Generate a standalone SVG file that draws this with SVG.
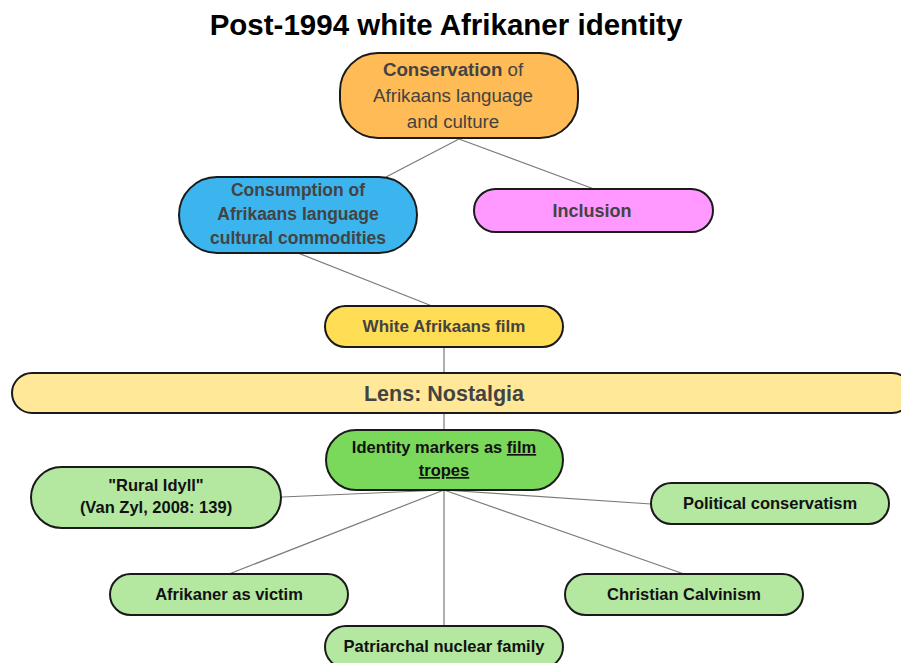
<svg xmlns="http://www.w3.org/2000/svg" width="901" height="663" viewBox="0 0 901 663">
  <style>
    .node { stroke: #1a1a1a; stroke-width: 2; }
    .edge { stroke: #7a7a7a; stroke-width: 1.2; fill: none; }
    .t { font-family: "Liberation Sans", Arial, sans-serif; text-anchor: middle; }
    .up { fill: #434343; }
    .dk { fill: #111111; font-weight: bold; font-size: 16.5px; }
    .b { font-weight: bold; }
  </style>
  <rect width="901" height="663" fill="#ffffff"/>

  <text class="t b" x="446" y="35" font-size="29.5" fill="#000">Post-1994 white Afrikaner identity</text>

  <g id="connectors">
    <line class="edge" x1="459" y1="139" x2="386" y2="177"/>
    <line class="edge" x1="459" y1="139" x2="594" y2="189"/>
    <line class="edge" x1="298" y1="253" x2="432" y2="306"/>
    <line class="edge" x1="444" y1="347" x2="444" y2="373"/>
    <line class="edge" x1="444" y1="413" x2="444" y2="430"/>
    <line class="edge" x1="444" y1="490" x2="282" y2="497"/>
    <line class="edge" x1="444" y1="490" x2="651" y2="504"/>
    <line class="edge" x1="444" y1="490" x2="229" y2="574"/>
    <line class="edge" x1="444" y1="490" x2="684" y2="574"/>
    <line class="edge" x1="444" y1="490" x2="444" y2="626"/>
  </g>

  <g id="conservation">
    <rect class="node" x="340" y="53" width="238" height="85" rx="38" fill="#FFBB55"/>
    <text class="t up" font-size="18.7"><tspan x="453" y="76"><tspan font-weight="bold">Conservation</tspan> of</tspan><tspan x="453" y="102">Afrikaans language</tspan><tspan x="453" y="128">and culture</tspan></text>
  </g>

  <g id="consumption">
    <rect class="node" x="179" y="177" width="238" height="76" rx="38" fill="#3CB5EF"/>
    <text class="t up b" font-size="17.5"><tspan x="298" y="196">Consumption of</tspan><tspan x="298" y="220">Afrikaans language</tspan><tspan x="298" y="244">cultural commodities</tspan></text>
  </g>

  <g id="inclusion">
    <rect class="node" x="474" y="189" width="239" height="43" rx="21.5" fill="#FF99FF"/>
    <text class="t up b" font-size="18" x="592" y="217">Inclusion</text>
  </g>

  <g id="white-afrikaans-film">
    <rect class="node" x="325" y="306" width="238" height="41" rx="20.5" fill="#FFDD55"/>
    <text class="t up b" font-size="17" x="444" y="332">White Afrikaans film</text>
  </g>

  <g id="lens-nostalgia">
    <rect class="node" x="12" y="373" width="900" height="40" rx="20" fill="#FFE999"/>
    <text class="t up b" font-size="21.5" x="444" y="401">Lens: Nostalgia</text>
  </g>

  <g id="identity-markers">
    <rect class="node" x="326" y="430" width="237" height="60" rx="30" fill="#7AD85A"/>
    <text class="t dk"><tspan x="444" y="453">Identity markers as <tspan text-decoration="underline">film</tspan></tspan><tspan x="444" y="476" text-decoration="underline">tropes</tspan></text>
  </g>

  <g id="rural-idyll">
    <rect class="node" x="31" y="467" width="250" height="61" rx="30.5" fill="#B4E8A0"/>
    <text class="t dk"><tspan x="156" y="491">"Rural Idyll"</tspan><tspan x="156" y="513">(Van Zyl, 2008: 139)</tspan></text>
  </g>

  <g id="political-conservatism">
    <rect class="node" x="651" y="483" width="238" height="41" rx="20.5" fill="#B4E8A0"/>
    <text class="t dk" x="770" y="509">Political conservatism</text>
  </g>

  <g id="afrikaner-as-victim">
    <rect class="node" x="110" y="574" width="238" height="41" rx="20.5" fill="#B4E8A0"/>
    <text class="t dk" x="229" y="600">Afrikaner as victim</text>
  </g>

  <g id="christian-calvinism">
    <rect class="node" x="565" y="574" width="238" height="41" rx="20.5" fill="#B4E8A0"/>
    <text class="t dk" x="684" y="600">Christian Calvinism</text>
  </g>

  <g id="patriarchal-nuclear-family">
    <rect class="node" x="325" y="626" width="238" height="42" rx="21" fill="#B4E8A0"/>
    <text class="t dk" x="444" y="652">Patriarchal nuclear family</text>
  </g>
</svg>
